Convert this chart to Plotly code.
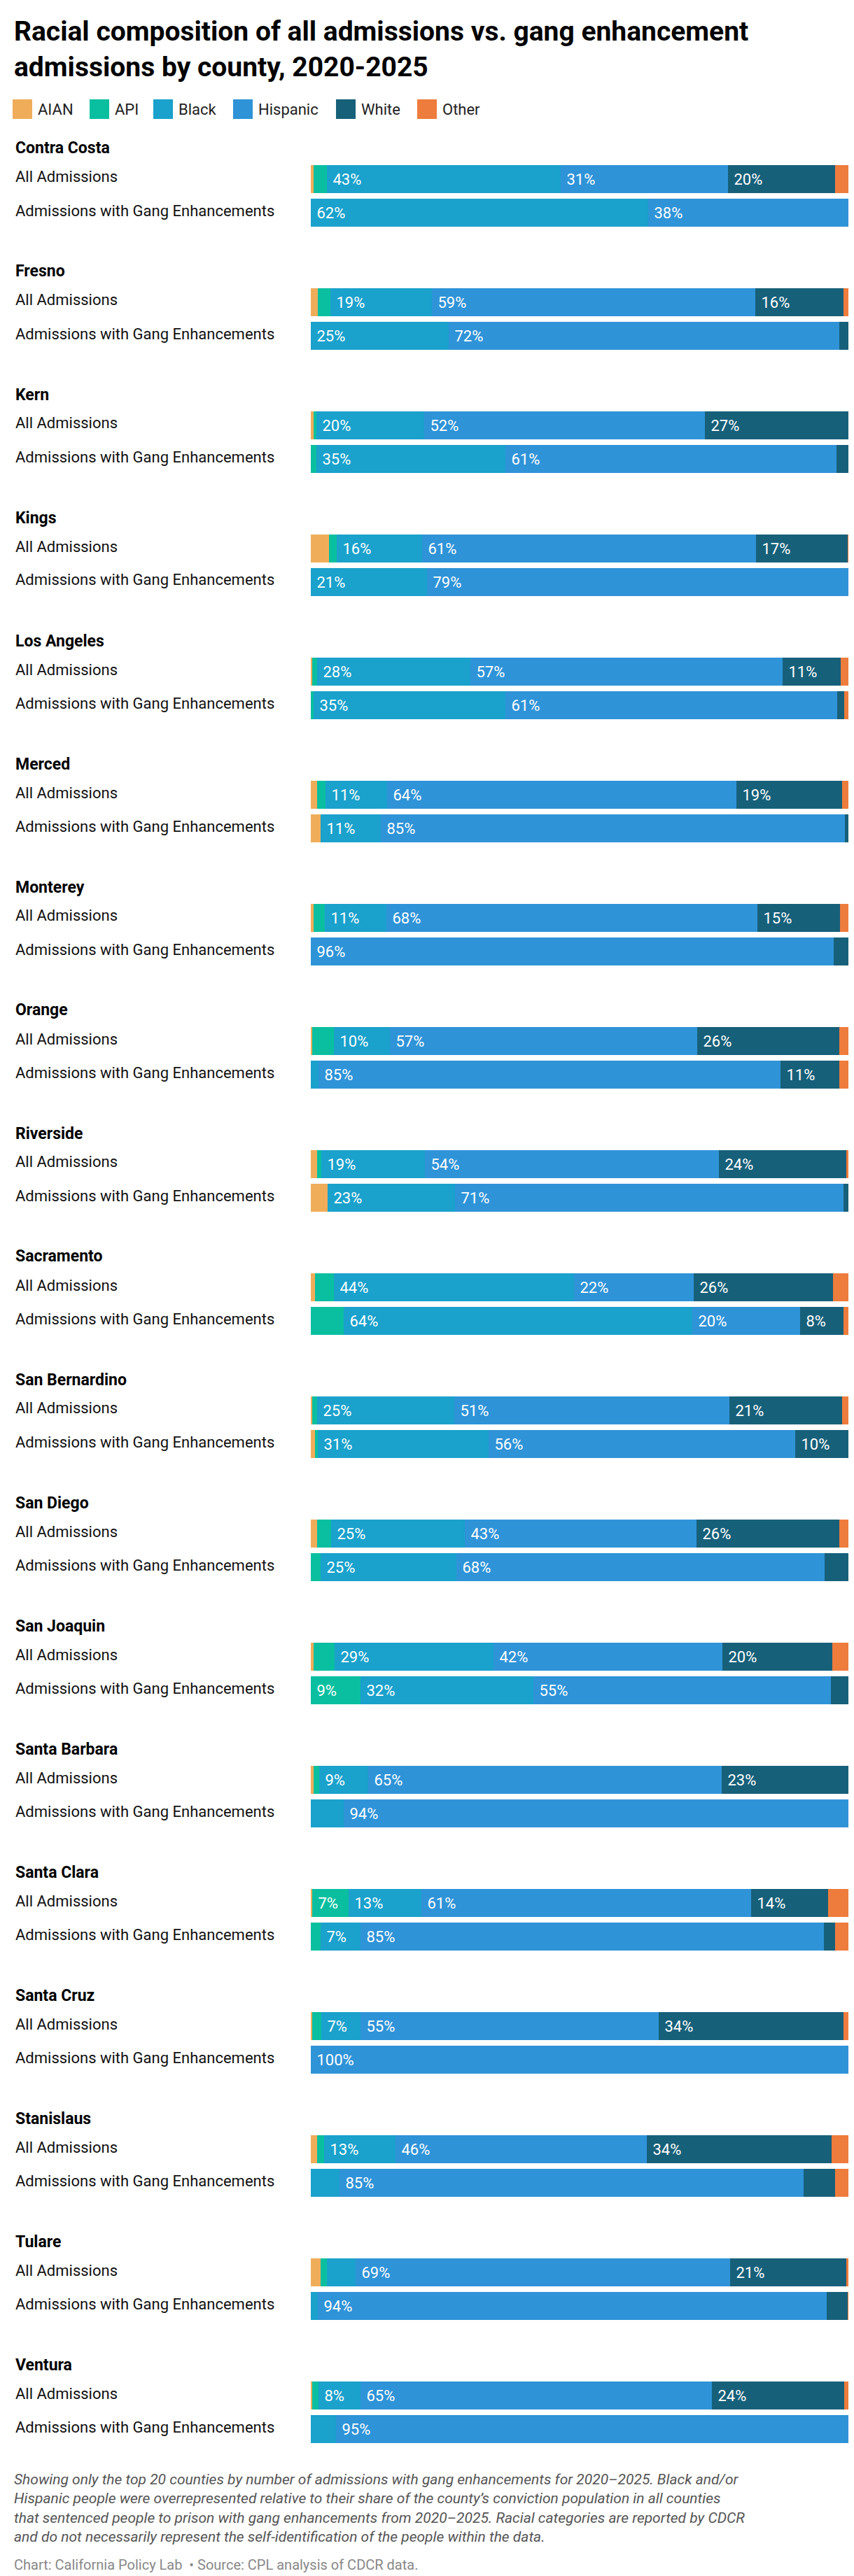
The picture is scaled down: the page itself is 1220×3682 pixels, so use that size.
import plotly.graph_objects as go

W, H = 1220, 3682
counties = ["Contra Costa", "Fresno", "Kern", "Kings", "Los Angeles", "Merced", "Monterey", "Orange",
            "Riverside", "Sacramento", "San Bernardino", "San Diego", "San Joaquin", "Santa Barbara",
            "Santa Clara", "Santa Cruz", "Stanislaus", "Tulare", "Ventura"]
races = ["AIAN", "API", "Black", "Hispanic", "White", "Other"]
colors = ["#EFAD5A", "#0ABFA0", "#1AA1CC", "#2F93D8", "#17607A", "#EE7C3C"]
row_labels = ["All Admissions", "Admissions with Gang Enhancements"]

# [AIAN, API, Black, Hispanic, White, Other] in percent
all_adm = [
    [0.5, 2.4, 43.0, 30.8, 19.7, 3.6],
    [1.3, 2.3, 18.7, 59.4, 16.3, 2.0],
    [0.5, 0.5, 19.9, 51.5, 26.6, 1.0],
    [3.4, 1.3, 15.8, 61.4, 16.8, 1.3],
    [0.3, 0.8, 28.3, 57.3, 10.7, 2.6],
    [1.1, 1.6, 11.3, 64.3, 19.4, 2.3],
    [0.5, 2.1, 11.3, 68.2, 15.2, 2.7],
    [0.3, 3.9, 10.3, 56.6, 26.1, 2.8],
    [1.1, 0.8, 19.1, 54.0, 23.5, 1.5],
    [0.8, 3.4, 44.2, 22.0, 25.6, 4.0],
    [0.3, 0.8, 25.3, 50.6, 20.7, 2.3],
    [1.1, 2.6, 24.6, 42.6, 26.3, 2.8],
    [0.5, 3.9, 29.2, 42.1, 20.2, 4.1],
    [0.5, 1.1, 9.0, 64.9, 23.3, 1.2],
    [0.3, 6.7, 13.3, 60.6, 14.2, 4.9],
    [0.3, 1.6, 7.3, 54.7, 34.1, 2.0],
    [1.1, 1.3, 13.2, 46.2, 33.9, 4.3],
    [1.8, 1.1, 5.4, 68.8, 21.4, 1.5],
    [0.2, 1.2, 7.8, 64.6, 24.3, 1.9],
]
gang_adm = [
    [0.0, 0.0, 62.0, 38.0, 0.0, 0.0],
    [0.0, 0.0, 25.3, 71.9, 2.8, 0.0],
    [0.0, 1.0, 34.8, 60.8, 3.4, 0.0],
    [0.0, 0.0, 21.4, 78.6, 0.0, 0.0],
    [0.0, 0.5, 35.3, 61.0, 1.3, 1.9],
    [1.8, 0.0, 11.1, 85.3, 1.8, 0.0],
    [0.0, 0.0, 0.0, 96.2, 3.8, 0.0],
    [0.0, 0.0, 1.4, 85.0, 10.8, 2.8],
    [3.1, 0.0, 23.4, 71.4, 2.1, 0.0],
    [0.0, 6.0, 64.1, 19.9, 8.0, 2.0],
    [0.8, 0.5, 31.4, 56.4, 10.4, 0.5],
    [0.0, 1.8, 25.0, 67.7, 5.5, 0.0],
    [0.0, 9.1, 31.8, 54.7, 4.4, 0.0],
    [0.0, 0.0, 6.0, 94.0, 0.0, 0.0],
    [0.0, 1.8, 7.3, 85.2, 2.1, 3.6],
    [0.0, 0.0, 0.0, 100.0, 0.0, 0.0],
    [0.0, 0.0, 5.3, 85.3, 5.8, 3.6],
    [0.0, 0.0, 1.3, 93.5, 3.9, 1.3],
    [0.0, 0.0, 4.6, 95.4, 0.0, 0.0],
]

TOP = 248      # center of first bar (px)
STEP = 176     # px per county
PAIR = 48      # px between the two bars
BARH = 40

def py(px):
    return 1 - px / H

ys_all = [TOP + i * STEP for i in range(len(counties))]
ys_gang = [y + PAIR for y in ys_all]

fig = go.Figure()
for r, race in enumerate(races):
    xs = [row[r] for row in all_adm] + [row[r] for row in gang_adm]
    ys = ys_all + ys_gang
    texts = [f"\u00a0{round(v)}%" if v >= 6.5 else "" for v in xs]
    fig.add_trace(go.Bar(
        x=xs, y=ys, orientation="h", width=BARH, name=race,
        marker=dict(color=colors[r], line=dict(width=0)),
        text=texts, textposition="inside", insidetextanchor="start",
        textangle=0, textfont=dict(color="white", size=22, family="Roboto"),
        hoverinfo="skip", showlegend=False,
    ))

ann = []
ann.append(dict(text="<b>Racial composition of all admissions vs. gang enhancement<br>admissions by county, 2020-2025</b>",
                x=10 / W, y=py(12), xref="paper", yref="paper", xanchor="left", yanchor="top",
                showarrow=False, align="left", font=dict(size=39, family="Roboto", color="#000")))
shapes = []
leg_x = [10, 120, 211, 325, 472, 588]
for i, race in enumerate(races):
    shapes.append(dict(type="rect", xref="paper", yref="paper", x0=leg_x[i] / W, x1=(leg_x[i] + 28) / W,
                       y0=py(162), y1=py(134), fillcolor=colors[i], line=dict(width=0)))
    ann.append(dict(text=race, x=(leg_x[i] + 34) / W, y=py(148), xref="paper", yref="paper",
                    xanchor="left", yanchor="middle", showarrow=False,
                    font=dict(size=22, family="Roboto", color="#222")))
for i, c in enumerate(counties):
    ann.append(dict(text=f"<b>{c}</b>", x=12 / W, y=py(ys_all[i] - 44), xref="paper", yref="paper",
                    xanchor="left", yanchor="middle", showarrow=False,
                    font=dict(size=23, family="Roboto", color="#000")))
    for j, yy in enumerate([ys_all[i], ys_gang[i]]):
        ann.append(dict(text=row_labels[j], x=12 / W, y=py(yy - 3), xref="paper", yref="paper",
                        xanchor="left", yanchor="middle", showarrow=False,
                        font=dict(size=22, family="Roboto", color="#111")))

note = ("<i>Showing only the top 20 counties by number of admissions with gang enhancements for 2020–2025. Black and/or<br>"
        "Hispanic people were overrepresented relative to their share of the county’s conviction population in all counties<br>"
        "that sentenced people to prison with gang enhancements from 2020–2025. Racial categories are reported by CDCR<br>"
        "and do not necessarily represent the self-identification of the people within the data.</i>")
ann.append(dict(text=note, x=10 / W, y=py(3522), xref="paper", yref="paper", xanchor="left", yanchor="top",
                showarrow=False, align="left", font=dict(size=21, family="Roboto", color="#555")))
ann.append(dict(text="Chart: California Policy Lab  • Source: CPL analysis of CDCR data.", x=10 / W, y=py(3658),
                xref="paper", yref="paper", xanchor="left", yanchor="middle", showarrow=False,
                font=dict(size=20, family="Roboto", color="#888")))

fig.update_layout(
    width=W, height=H, margin=dict(l=0, r=0, t=0, b=0), barmode="stack",
    plot_bgcolor="white", paper_bgcolor="white", bargap=0,
    xaxis=dict(domain=[436 / W, 1213 / W], range=[0, 100], visible=False, fixedrange=True),
    yaxis=dict(domain=[0, 1], range=[H, 0], visible=False, fixedrange=True),
    annotations=ann, shapes=shapes, uniformtext=dict(minsize=22, mode="show"),
)
fig.write_html("out.html")
